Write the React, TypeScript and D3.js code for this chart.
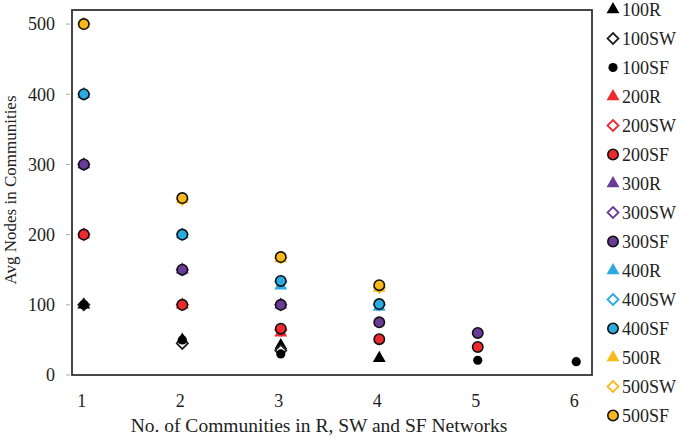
import React from 'react';
import * as d3 from 'd3';

// x positions (number of communities)
const communities = [1, 2, 3, 4, 5, 6];
const yTicks = [0, 100, 200, 300, 400, 500];

// avg nodes per community, null = no point
const r100 = [100, 50, 42, 24, null, null];
const sw100 = [100, 45, 35, null, null, null];
const sf100 = [100, 50, 30, null, 21, 19];
const r200 = [200, 100, 60, null, null, null];
const sw200 = [200, 100, 64, null, null, null];
const sf200 = [200, 100, 66, 51, 40, null];
const r300 = [300, 150, 100, null, null, null];
const sw300 = [300, 150, 100, null, null, null];
const sf300 = [300, 150, 100, 75, 60, null];
const r400 = [400, 200, 127, 97, null, null];
const sw400 = [400, 200, 133, 100, null, null];
const sf400 = [400, 200, 134, 101, null, null];
const r500 = [500, 250, 166, 124, null, null];
const sw500 = [500, 250, 167, 125, null, null];
const sf500 = [500, 252, 168, 128, null, null];

const colors: Record<string, string> = {
    '100': '#000000',
    '200': '#ee2a2e',
    '300': '#6b3c97',
    '400': '#2aaae1',
    '500': '#fbb81b'
};

const series = [
    {name: '100R', size: '100', kind: 'R', values: r100},
    {name: '100SW', size: '100', kind: 'SW', values: sw100},
    {name: '100SF', size: '100', kind: 'SF', values: sf100},
    {name: '200R', size: '200', kind: 'R', values: r200},
    {name: '200SW', size: '200', kind: 'SW', values: sw200},
    {name: '200SF', size: '200', kind: 'SF', values: sf200},
    {name: '300R', size: '300', kind: 'R', values: r300},
    {name: '300SW', size: '300', kind: 'SW', values: sw300},
    {name: '300SF', size: '300', kind: 'SF', values: sf300},
    {name: '400R', size: '400', kind: 'R', values: r400},
    {name: '400SW', size: '400', kind: 'SW', values: sw400},
    {name: '400SF', size: '400', kind: 'SF', values: sf400},
    {name: '500R', size: '500', kind: 'R', values: r500},
    {name: '500SW', size: '500', kind: 'SW', values: sw500},
    {name: '500SF', size: '500', kind: 'SF', values: sf500}
];

const font = '"Liberation Serif", "Times New Roman", serif';

function Marker({kind, color, x, y}: {kind: string, color: string, x: number, y: number}) {
    const t = 'translate(' + x + ',' + y + ')';
    const black = color === '#000000';
    if (kind === 'R') {
        return <path transform={t} d={d3.symbol(d3.symbolTriangle, 72)()!} fill={color}/>;
    }
    if (kind === 'SW') {
        return <path transform={t} d="M0,-5.5L5.5,0L0,5.5L-5.5,0Z" fill="#fff" stroke={black ? '#222' : color} strokeWidth={1.8}/>;
    }
    return <circle cx={x} cy={y} r={black ? 4.6 : 5.2} fill={color} stroke="#111" strokeWidth={black ? 0 : 1.6}/>;
}

export default function App() {
    const width = 685, height = 438;
    const left = 72, right = 592, top = 10, bottom = 375;

    const x = d3.scaleLinear().domain([0.88, 6.16]).range([left, right]);
    const y = d3.scaleLinear().domain([0, 520]).range([bottom, top]);

    return (
        <svg width={width} height={height} style={{position: 'absolute', left: 0, top: 0}} fontFamily={font}>
            {yTicks.map(t => (
                <g key={t}>
                    <line x1={left - 6} x2={left - 2} y1={y(t)} y2={y(t)} stroke="#aaa" strokeWidth={1}/>
                    <text x={55} y={y(t)} dy="0.35em" textAnchor="end" fontSize={18} fill="#222">{t}</text>
                </g>
            ))}
            {communities.map(c => (
                <text key={c} x={x(c) - 2} y={407} textAnchor="middle" fontSize={18} fill="#222">{c}</text>
            ))}
            <rect x={left} y={top} width={right - left} height={bottom - top} fill="none" stroke="#333" strokeWidth={1.8}/>

            {series.map(s => (
                <g key={s.name}>
                    {s.values.map((v, i) => v == null ? null :
                        <Marker key={i} kind={s.kind} color={colors[s.size]} x={x(communities[i])} y={y(v)}/>
                    )}
                </g>
            ))}

            <text transform={'translate(10,190) rotate(-90)'} textAnchor="middle" dy="0.35em" fontSize={17} fill="#222">Avg Nodes in Communities</text>
            <text x={319} y={432} textAnchor="middle" fontSize={19.5} fill="#222">No. of Communities in R, SW and SF Networks</text>

            {series.map((s, i) => {
                const ly = 9.5 + i * 29;
                return (
                    <g key={s.name}>
                        <Marker kind={s.kind} color={colors[s.size]} x={613} y={ly}/>
                        <text x={622} y={ly} dy="0.35em" fontSize={18} fill="#222">{s.name}</text>
                    </g>
                );
            })}
        </svg>
    );
}
